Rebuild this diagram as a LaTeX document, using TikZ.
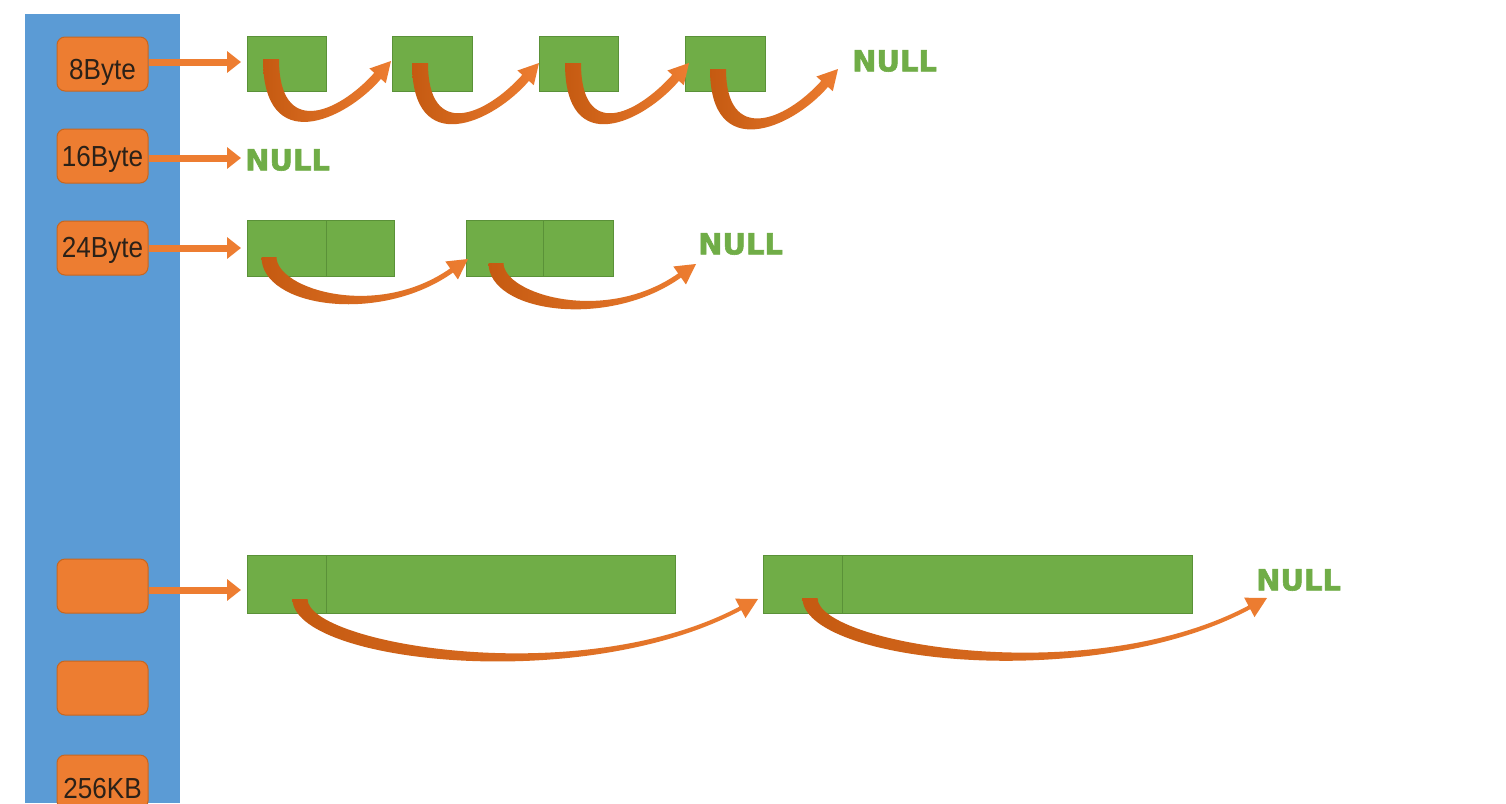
\documentclass[tikz,border=0pt]{standalone}
\usepackage{fontspec}
\setmainfont{Liberation Sans}
\newfontfamily\nullfnt[FakeBold=2]{DejaVu Sans Bold}
\usetikzlibrary{arrows.meta}
\definecolor{colblue}{HTML}{5B9BD5}
\definecolor{orng}{HTML}{ED7D31}
\definecolor{orngdark}{HTML}{C55A11}
\definecolor{orngline}{HTML}{C8661F}
\definecolor{grn}{HTML}{70AD47}
\definecolor{grnline}{HTML}{5A9138}
\definecolor{txtdark}{HTML}{2B2118}
% #1 sx, #2 sy, #3 tx, #4 ty, #5 angle, #6 first control y, #7 second control length, #8 start half width, #9 end half width
\newcommand\bentarr[9]{%
 \pgfmathsetmacro\dX{cos(#5)}%
 \pgfmathsetmacro\pX{sin(#5)}%
 \pgfmathsetmacro\pY{cos(#5)}%
 \pgfmathsetmacro\bX{#3-20*\dX}%
 \pgfmathsetmacro\bY{#4+20*\pX}%
 \pgfmathsetmacro\cX{\bX-#7*\dX}%
 \pgfmathsetmacro\cY{\bY+#7*\pX}%
 \shade[left color=orngdark, right color=orng]
  (#1-#8,#2) .. controls (#1-#8,#6+#8) and (\cX+\pX*#9*1.3,\cY+\pY*#9*1.3) .. (\bX+\pX*#9,\bY+\pY*#9)
  -- (\bX+\pX*11,\bY+\pY*11) -- (#3,#4) -- (\bX-\pX*11,\bY-\pY*11)
  -- (\bX-\pX*#9,\bY-\pY*#9) .. controls (\cX-\pX*#9,\cY-\pY*#9) and (#1+#8,#6-#8*1.5) .. (#1+#8,#2) -- cycle;
}
\tikzset{
 sizebox/.style={draw=orngline, fill=orng, rounded corners=8pt, minimum width=91pt, minimum height=54pt, inner sep=0pt, line width=1pt},
 sizetxt/.style={text=txtdark, font=\fontsize{29}{29}\selectfont, inner sep=0pt},
 blk/.style={draw=grnline, fill=grn, line width=0.8pt, inner sep=0pt, anchor=north west},
 nulltxt/.style={text=grn, font=\nullfnt\fontsize{29}{29}\selectfont, anchor=west, inner sep=0pt},
 ptr/.style={draw=orng, line width=7pt, -{Triangle[length=14pt,width=21pt]}},
}
\newcommand\nar[1]{\scalebox{0.9}[1]{#1}}
\begin{document}
\begin{tikzpicture}[x=1pt,y=-1pt]
\useasboundingbox (0,0) rectangle (1506,803);
\fill[white] (0,0) rectangle (1506,803);
% blue column
\fill[colblue] (25,14) rectangle (180,803);
% size class boxes
\node[sizebox] (b8) at (102.5,64) {};
\node[sizetxt] (t8) at (102.5,72) {\nar{8Byte}};
\node[sizebox] (b16) at (102.5,156) {};
\node[sizetxt] (t16) at (102.5,159) {\nar{16Byte}};
\node[sizebox] (b24) at (102.5,248) {};
\node[sizetxt] (t24) at (102.5,250) {\nar{24Byte}};
\node[sizebox] (bx1) at (102.5,586) {};
\node[sizebox] (bx2) at (102.5,688) {};
\node[sizebox] (b256) at (102.5,782) {};
\node[sizetxt] (t256) at (102.5,789) {\nar{256KB}};
% row 1 blocks
\node[blk, minimum width=79pt, minimum height=55pt] (g11) at (247,36) {};
\node[blk, minimum width=80pt, minimum height=55pt] (g12) at (392,36) {};
\node[blk, minimum width=79pt, minimum height=55pt] (g13) at (539,36) {};
\node[blk, minimum width=80pt, minimum height=55pt] (g14) at (685,36) {};
\node[nulltxt] (n1) at (852,61) {NULL};
% row 2
\node[nulltxt] (n2) at (245,160) {NULL};
% row 3 blocks
\node[blk, minimum width=79pt, minimum height=56pt] (g31a) at (247,220) {};
\node[blk, minimum width=68pt, minimum height=56pt] (g31b) at (326,220) {};
\node[blk, minimum width=77pt, minimum height=56pt] (g32a) at (466,220) {};
\node[blk, minimum width=70pt, minimum height=56pt] (g32b) at (543,220) {};
\node[nulltxt] (n3) at (698,244) {NULL};
% row 4 blocks
\node[blk, minimum width=79pt, minimum height=58pt] (g41a) at (247,555) {};
\node[blk, minimum width=349pt, minimum height=58pt] (g41b) at (326,555) {};
\node[blk, minimum width=79pt, minimum height=58pt] (g42a) at (763,555) {};
\node[blk, minimum width=350pt, minimum height=58pt] (g42b) at (842,555) {};
\node[nulltxt] (n4) at (1256,580) {NULL};
% straight pointers
\draw[ptr, shorten >=6pt] (b8.east |- 0,62) -- (g11.west |- 0,62);
\draw[ptr, shorten >=4pt] (b16.east |- 0,158) -- (n2.west |- 0,158);
\draw[ptr, shorten >=6pt] (b24.east |- 0,248) -- (g31a.west |- 0,248);
\draw[ptr, shorten >=6pt] (bx1.east |- 0,590) -- (g41a.west |- 0,590);
% bent arrows row 1
\bentarr{271}{59}{391}{61}{48}{150}{55}{8}{4.5}
\bentarr{420}{63}{539}{63}{48}{152}{55}{8}{4.5}
\bentarr{573}{63}{689}{63}{48}{152}{55}{8}{4.5}
\bentarr{718}{69}{838}{69}{48}{156}{55}{8}{4.5}
% row 3
\bentarr{269}{257}{468}{259}{35}{300}{90}{7.5}{2.5}
\bentarr{496}{263}{696}{264}{35}{305}{90}{7.5}{2.5}
% row 4
\bentarr{300}{599}{758}{599}{28}{655}{180}{7.5}{2}
\bentarr{810}{598}{1267}{598}{28}{655}{180}{7.5}{2}
\end{tikzpicture}
\end{document}
